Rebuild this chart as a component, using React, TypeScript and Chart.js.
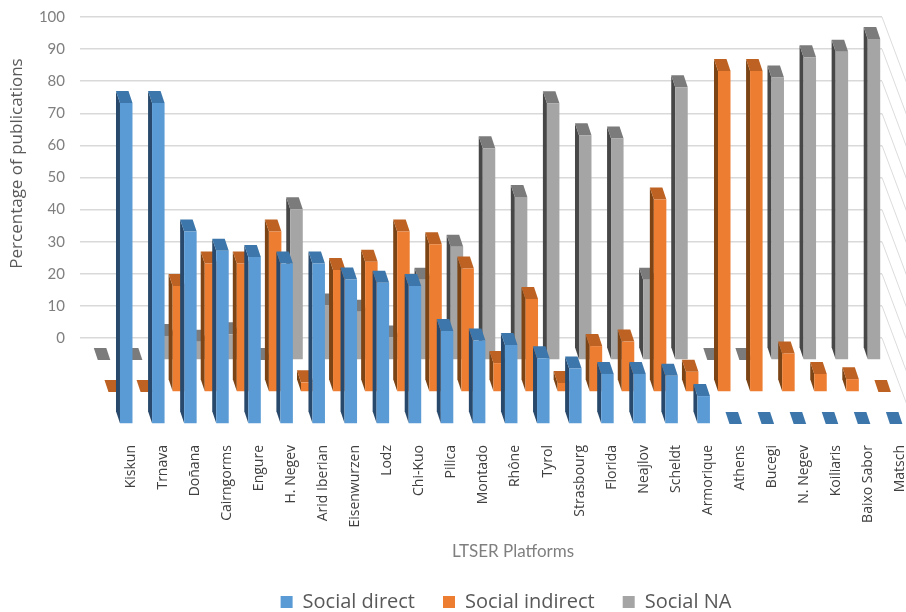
import React, { useEffect, useRef } from "react";
import { Chart, registerables } from "chart.js";

Chart.register(...registerables);

const platforms = ["Kiskun","Trnava","Doñana","Cairngorms","Engure","H. Negev","Arid Iberian","Eisenwurzen","Lodz","Chi-Kuo","Pilica","Montado","Rhône","Tyrol","Strasbourg","Florida","Neajlov","Scheldt","Armorique","Athens","Bucegi","N. Negev","Koiliaris","Baixo Sabor","Matsch"];
const socialDirect = [100,100,60,54,52,50,50,45,44,43,29,26,24.6,20.5,17.3,15.6,15.6,15,8.7,0,0,0,0,0,0];
const socialIndirect = [0,0,33,40,40,50,3,38,40.6,50,46,38.5,9,29,2.8,14.3,15.7,60,6.3,100,100,12,5.6,4,0];
const socialNA = [0,0,7.5,5.7,8,0,47,17,15,7,25,35.3,66,50.8,80,70,69,25,85,0,0,88,94.3,96,100];

const frontColors = ["#5b9bd5", "#ed7d31", "#a5a5a5"];
const topColors = ["#3c76aa", "#bd6222", "#7b7b7b"];
const sideColors = ["#28496b", "#7c4414", "#474747"];
const depthX = [30.2, 18.7, 8];
const depthY = [86, 54, 22];
const capX = 4;
const capY = 12;

function poly(ctx: CanvasRenderingContext2D, pts: number[][], fill: string) {
  ctx.fillStyle = fill;
  ctx.beginPath();
  pts.forEach((p, i) => (i ? ctx.lineTo(p[0], p[1]) : ctx.moveTo(p[0], p[1])));
  ctx.closePath();
  ctx.fill();
}

function shiftTitle(scale: any, dx: number, dy: number) {
  if (scale.__shifted) return;
  scale.__shifted = true;
  const original = scale.drawTitle;
  scale.drawTitle = function (...args: any[]) {
    this.ctx.save();
    this.ctx.translate(dx, dy);
    original.apply(this, args);
    this.ctx.restore();
  };
}

const bars3d = {
  id: "bars3d",
  afterLayout(chart: any) {
    if (chart.legend) {
      chart.legend.left += 65;
      chart.legend.right += 65;
      chart.legend.top += 10;
      chart.legend.bottom += 10;
    }
    shiftTitle(chart.scales.y, 0, -14);
    shiftTitle(chart.scales.x, 32, 10);
  },
  beforeDatasetsDraw(chart: any) {
    const { ctx, chartArea, scales } = chart;
    ctx.save();
    ctx.strokeStyle = "#dcdcdc";
    ctx.lineWidth = 1;
    for (const t of scales.y.ticks) {
      const y = scales.y.getPixelForValue(t.value);
      ctx.beginPath();
      ctx.moveTo(chartArea.right, y);
      ctx.lineTo(chartArea.right + 34, y + 91);
      ctx.stroke();
    }
    ctx.restore();
  },
  beforeDatasetDraw(chart: any, args: any) {
    const i = args.index;
    const { ctx } = chart;
    const dx = depthX[i];
    const dy = depthY[i];
    ctx.save();
    for (const el of args.meta.data) {
      const l = el.x - el.width / 2 + dx;
      const r = el.x + el.width / 2 + dx;
      const t = el.y + dy;
      const b = el.base + dy;
      poly(ctx, [[l, t], [l - capX, t - capY], [l - capX, b - capY], [l, b]], sideColors[i]);
      poly(ctx, [[l, t], [l - capX, t - capY], [r - capX, t - capY], [r, t]], topColors[i]);
      if (b > t) poly(ctx, [[l, t], [r, t], [r, b], [l, b]], frontColors[i]);
    }
    ctx.restore();
    return false;
  },
};

export default function App() {
  const ref = useRef<HTMLCanvasElement>(null);
  useEffect(() => {
    document.body.style.margin = "0";
    document.body.style.background = "#fff";
    const series = [
      { label: "Social direct", data: socialDirect },
      { label: "Social indirect", data: socialIndirect },
      { label: "Social NA", data: socialNA },
    ];
    const chart = new Chart(ref.current as HTMLCanvasElement, {
      type: "bar",
      data: {
        labels: platforms,
        datasets: series.map((s, i) => ({
          ...s,
          backgroundColor: frontColors[i],
          barThickness: 12.5,
          grouped: false,
        })),
      },
      plugins: [bars3d],
      options: {
        animation: false,
        responsive: false,
        devicePixelRatio: 1,
        layout: { padding: { top: 17, right: 24, left: 0, bottom: 0 } },
        plugins: {
          tooltip: { enabled: false },
          legend: {
            position: "bottom",
            labels: {
              boxWidth: 12,
              boxHeight: 12,
              padding: 28,
              color: "#595959",
              font: { family: "Open Sans", size: 20 },
            },
          },
        },
        scales: {
          x: {
            type: "category",
            grid: { display: false },
            border: { display: false },
            afterFit(scale: any) {
              scale.height = 274 - (scale.chart.legend?.height ?? 0);
              scale.paddingLeft = 0;
              scale.paddingRight = 0;
            },
            ticks: {
              autoSkip: false,
              minRotation: 90,
              maxRotation: 90,
              padding: 99,
              labelOffset: 34.5,
              color: "#404040",
              font: { family: "Open Sans", size: 14 },
            },
            title: {
              display: true,
              text: "LTSER Platforms",
              color: "#7f7f7f",
              padding: { top: 0, bottom: 2 },
              font: { family: "Lato", size: 17 },
            },
          },
          y: {
            min: 0,
            max: 100,
            border: { display: false },
            grid: { color: "#d9d9d9", lineWidth: 1.5, drawTicks: false },
            afterFit(scale: any) {
              scale.width = 80;
              scale.paddingTop = 0;
              scale.paddingBottom = 0;
            },
            ticks: {
              stepSize: 10,
              padding: 15,
              color: "#7f7f7f",
              font: { family: "Lato", size: 15 },
            },
            title: {
              display: true,
              text: "Percentage of publications",
              color: "#595959",
              padding: { top: 7, bottom: 0 },
              font: { family: "Open Sans", size: 17 },
            },
          },
        },
      },
    } as any);
    return () => chart.destroy();
  }, []);
  return (
    <div style={{ position: "absolute", left: 0, top: 0, width: 906, height: 612 }}>
      <canvas ref={ref} width={906} height={612} style={{ display: "block" }} />
    </div>
  );
}
